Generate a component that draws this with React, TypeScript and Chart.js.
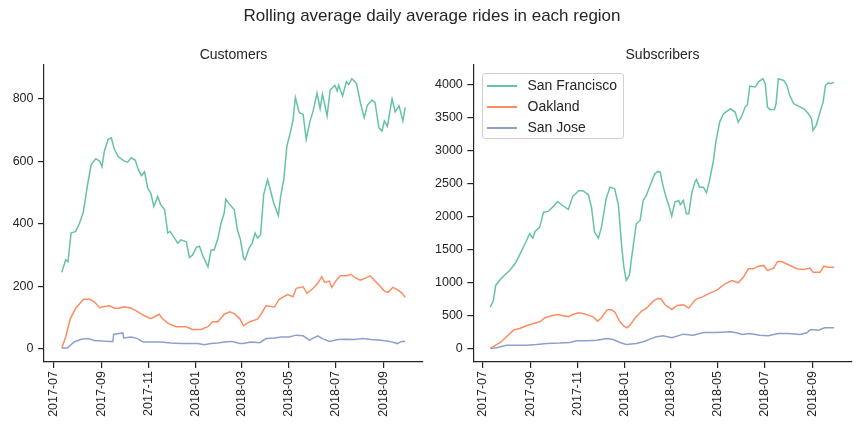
import React, { useEffect, useRef } from "react";
import { Chart, registerables } from "chart.js";

Chart.register(...registerables);

const FONT = "'Liberation Sans', Arial, 'DejaVu Sans', sans-serif";
const INK = "#262626";

const SUPTITLE = "Rolling average daily average rides in each region";
const REGIONS = ["San Francisco", "Oakland", "San Jose"];
const COLORS = ["#66c2a5", "#fc8d62", "#8da0cb"];

// x values are days since 2017-07-01
const TICK_DAYS = [0, 62, 123, 184, 243, 304, 365, 427];
const TICK_LABELS = ["2017-07", "2017-09", "2017-11", "2018-01", "2018-03", "2018-05", "2018-07", "2018-09"];

const CUST_Y_TICKS = [0, 200, 400, 600, 800];
const SUBS_Y_TICKS = [0, 500, 1000, 1500, 2000, 2500, 3000, 3500, 4000];

// ---- Customers ----
const custSfDay = [11, 16, 19, 23, 29, 34, 39, 44, 49, 55, 60, 63, 66, 71, 75, 79, 84, 92, 96, 101, 106, 110, 114, 118, 122, 126, 130, 135, 139, 144, 148, 151, 154, 161, 165, 172, 176, 180, 185, 189, 193, 200, 204, 208, 213, 217, 221, 223, 228, 234, 238, 242, 246, 248, 253, 257, 261, 264, 268, 272, 277, 280, 285, 291, 294, 298, 302, 307, 310, 313, 318, 323, 327, 332, 336, 341, 345, 348, 354, 358, 364, 367, 369, 374, 379, 382, 386, 392, 397, 402, 406, 412, 416, 421, 425, 428, 432, 438, 442, 447, 452, 455];
const custSf = [244, 284, 278, 370, 375, 402, 439, 520, 589, 608, 600, 582, 632, 670, 675, 638, 614, 600, 597, 611, 603, 573, 554, 566, 514, 498, 455, 487, 460, 444, 370, 375, 364, 337, 348, 342, 292, 299, 324, 328, 299, 262, 316, 316, 354, 402, 434, 479, 461, 445, 381, 348, 289, 284, 321, 337, 370, 354, 364, 493, 541, 514, 466, 426, 489, 541, 648, 697, 732, 804, 755, 750, 670, 729, 761, 818, 768, 815, 745, 828, 843, 825, 843, 809, 854, 846, 864, 849, 788, 739, 779, 796, 788, 707, 697, 729, 712, 800, 758, 777, 729, 772];

const custOakDay = [11, 16, 22, 29, 39, 47, 53, 60, 65, 73, 79, 85, 92, 101, 109, 118, 126, 131, 137, 141, 149, 159, 165, 172, 180, 191, 200, 206, 213, 221, 228, 234, 241, 246, 254, 264, 269, 275, 286, 292, 303, 310, 314, 323, 328, 336, 342, 347, 351, 357, 360, 366, 371, 379, 385, 390, 397, 405, 410, 415, 422, 428, 433, 439, 446, 451, 455];
const custOak = [2, 37, 96, 129, 158, 158, 150, 131, 134, 137, 129, 129, 134, 129, 118, 105, 96, 102, 110, 96, 80, 70, 70, 70, 61, 61, 70, 86, 86, 110, 118, 112, 96, 73, 86, 94, 112, 137, 133, 158, 173, 166, 193, 198, 177, 193, 209, 230, 212, 216, 196, 219, 233, 233, 238, 227, 219, 227, 233, 219, 201, 184, 180, 196, 187, 177, 164];

const custSjDay = [11, 18, 27, 36, 45, 53, 64, 73, 77, 78, 85, 90, 91, 101, 109, 116, 126, 139, 152, 165, 178, 187, 195, 204, 213, 221, 230, 234, 241, 245, 256, 267, 275, 286, 295, 305, 314, 323, 331, 342, 348, 357, 368, 379, 389, 400, 411, 424, 435, 445, 450, 455];
const custSj = [2, 2, 21, 30, 32, 26, 24, 23, 23, 45, 48, 50, 34, 37, 32, 21, 21, 21, 18, 16, 16, 16, 12, 16, 18, 21, 23, 21, 16, 16, 21, 19, 32, 34, 37, 37, 43, 41, 27, 41, 32, 23, 29, 30, 29, 32, 29, 27, 23, 16, 23, 23];

// ---- Subscribers ----
const subsSfDay = [10, 14, 17, 23, 29, 35, 42, 48, 55, 61, 65, 68, 74, 79, 85, 92, 97, 102, 111, 117, 125, 130, 137, 141, 145, 150, 154, 160, 165, 171, 176, 180, 183, 186, 190, 194, 199, 204, 208, 212, 217, 223, 227, 230, 234, 238, 241, 245, 249, 254, 256, 260, 264, 267, 271, 275, 277, 281, 286, 290, 294, 299, 302, 307, 312, 321, 327, 331, 336, 340, 343, 346, 353, 357, 363, 366, 369, 372, 378, 380, 383, 390, 394, 398, 403, 409, 416, 422, 426, 428, 432, 437, 441, 444, 448, 451, 455];
const subsSf = [626, 727, 955, 1045, 1116, 1182, 1283, 1419, 1586, 1737, 1672, 1773, 1838, 2065, 2076, 2156, 2227, 2177, 2106, 2308, 2394, 2389, 2328, 2141, 1763, 1672, 1838, 2268, 2444, 2419, 2167, 1561, 1232, 1030, 1106, 1460, 1889, 1939, 2242, 2318, 2470, 2646, 2682, 2671, 2444, 2277, 2177, 2005, 2217, 2242, 2177, 2242, 2040, 2040, 2358, 2520, 2561, 2444, 2444, 2358, 2546, 2848, 3126, 3429, 3556, 3631, 3581, 3429, 3530, 3657, 3692, 3974, 3960, 4035, 4086, 4010, 3657, 3621, 3621, 3707, 4086, 4060, 3985, 3823, 3707, 3671, 3631, 3556, 3480, 3303, 3379, 3581, 3732, 3985, 4025, 4010, 4035];

const subsOakDay = [10, 23, 31, 40, 48, 57, 66, 74, 81, 89, 98, 104, 111, 117, 124, 130, 137, 143, 149, 154, 161, 166, 171, 178, 183, 187, 191, 197, 206, 212, 221, 227, 231, 236, 245, 252, 260, 267, 273, 277, 284, 290, 295, 303, 314, 323, 331, 338, 344, 351, 357, 364, 369, 377, 382, 387, 396, 407, 416, 424, 428, 437, 442, 448, 455];
const subsOak = [0, 91, 177, 278, 303, 343, 379, 404, 465, 495, 515, 495, 480, 515, 540, 530, 505, 480, 414, 465, 581, 591, 556, 404, 338, 313, 353, 454, 566, 606, 717, 758, 752, 666, 591, 651, 661, 611, 702, 752, 778, 813, 843, 879, 980, 1030, 995, 1081, 1207, 1207, 1247, 1258, 1182, 1217, 1318, 1318, 1268, 1207, 1197, 1217, 1156, 1156, 1247, 1232, 1232];

const subsSjDay = [10, 18, 31, 44, 57, 70, 83, 100, 113, 122, 135, 148, 161, 169, 178, 186, 199, 208, 217, 225, 230, 234, 245, 260, 273, 286, 303, 321, 329, 336, 346, 359, 370, 383, 396, 411, 420, 425, 435, 443, 455];
const subsSj = [0, 10, 50, 50, 50, 61, 76, 81, 91, 116, 116, 126, 152, 136, 91, 61, 76, 101, 141, 177, 186, 192, 161, 217, 202, 242, 242, 252, 237, 212, 227, 202, 192, 227, 227, 212, 237, 287, 277, 313, 313];

type Series = { days: number[]; values: number[] };

type PanelProps = {
  left: number;
  series: Series[];
  yTicks: number[];
  yMin: number;
  yMax: number;
  axisWidth: number;
  padRight: number;
};

const X_MIN = -12;
const X_MAX = 478;

function Panel({ left, series, yTicks, yMin, yMax, axisWidth, padRight }: PanelProps) {
  const ref = useRef<HTMLCanvasElement | null>(null);
  useEffect(() => {
    if (!ref.current) return;
    const chart = new Chart(ref.current, {
      type: "line",
      data: {
        datasets: series.map((s, i) => ({
          label: REGIONS[i],
          data: s.days.map((d, j) => ({ x: d, y: s.values[j] })),
          borderColor: COLORS[i],
          backgroundColor: COLORS[i],
          borderWidth: 1.5,
          pointRadius: 0,
          tension: 0,
          fill: false,
        })),
      },
      options: {
        animation: false,
        responsive: false,
        events: [],
        layout: { padding: { left: 0, right: padRight, top: 65, bottom: 0 } },
        plugins: {
          legend: { display: false },
          title: { display: false },
          tooltip: { enabled: false },
        },
        scales: {
          x: {
            type: "linear",
            min: X_MIN,
            max: X_MAX,
            afterBuildTicks: (s: any) => {
              s.ticks = TICK_DAYS.map((v) => ({ value: v }));
            },
            afterFit: (s: any) => {
              s.height = 70;
            },
            grid: {
              display: true,
              drawOnChartArea: false,
              drawTicks: true,
              tickLength: 6,
              color: INK,
              lineWidth: 1.2,
            },
            border: { display: true, color: INK, width: 1.2 },
            ticks: {
              autoSkip: false,
              maxRotation: 90,
              minRotation: 90,
              padding: 3,
              color: INK,
              font: { family: FONT, size: 12.5 },
              callback: (v: any) => {
                const k = TICK_DAYS.indexOf(Number(v));
                return k >= 0 ? TICK_LABELS[k] : "";
              },
            },
          },
          y: {
            type: "linear",
            min: yMin,
            max: yMax,
            afterBuildTicks: (s: any) => {
              s.ticks = yTicks.map((v) => ({ value: v }));
            },
            afterFit: (s: any) => {
              s.width = axisWidth;
            },
            grid: {
              display: true,
              drawOnChartArea: false,
              drawTicks: true,
              tickLength: 6,
              color: INK,
              lineWidth: 1.2,
            },
            border: { display: true, color: INK, width: 1.2 },
            ticks: {
              autoSkip: false,
              padding: 4.5,
              color: INK,
              font: { family: FONT, size: 12.5 },
              callback: (v: any) => String(v),
            },
          },
        },
      },
    });
    return () => chart.destroy();
  }, []);
  return (
    <canvas
      ref={ref}
      width={432}
      height={432}
      style={{ position: "absolute", left, top: 0, width: 432, height: 432 }}
    />
  );
}

const textBase: React.CSSProperties = {
  position: "absolute",
  fontFamily: FONT,
  color: INK,
  whiteSpace: "nowrap",
};

export default function App() {
  const custSeries: Series[] = [
    { days: custSfDay, values: custSf },
    { days: custOakDay, values: custOak },
    { days: custSjDay, values: custSj },
  ];
  const subsSeries: Series[] = [
    { days: subsSfDay, values: subsSf },
    { days: subsOakDay, values: subsOak },
    { days: subsSjDay, values: subsSj },
  ];
  return (
    <div
      style={{
        position: "absolute",
        left: 0,
        top: 0,
        width: 864,
        height: 432,
        background: "#ffffff",
        overflow: "hidden",
      }}
    >
      <Panel left={0} series={custSeries} yTicks={CUST_Y_TICKS} yMin={-43} yMax={908} axisWidth={44} padRight={9} />
      <Panel left={432} series={subsSeries} yTicks={SUBS_Y_TICKS} yMin={-205} yMax={4294} axisWidth={41.3} padRight={12.3} />
      <div style={{ ...textBase, left: 0, top: 0, width: 864, height: 32, lineHeight: "32px", textAlign: "center", fontSize: 17 }}>
        {SUPTITLE}
      </div>
      <div style={{ ...textBase, left: 133.5, top: 44, width: 200, height: 20, lineHeight: "20px", textAlign: "center", fontSize: 14 }}>
        Customers
      </div>
      <div style={{ ...textBase, left: 562.5, top: 44, width: 200, height: 20, lineHeight: "20px", textAlign: "center", fontSize: 14 }}>
        Subscribers
      </div>
      <div
        style={{
          position: "absolute",
          left: 481.5,
          top: 73,
          width: 142,
          height: 66,
          border: "1px solid #d0d0d0",
          borderRadius: 3,
          background: "rgba(255,255,255,0.8)",
          boxSizing: "border-box",
        }}
      >
        {REGIONS.map((r, i) => (
          <div key={r} style={{ position: "absolute", left: 0, top: 1 + i * 21, height: 21, width: 140 }}>
            <div
              style={{
                position: "absolute",
                left: 4,
                top: 10,
                width: 30,
                height: 2,
                background: COLORS[i],
              }}
            />
            <div style={{ ...textBase, left: 45, top: 0, height: 21, lineHeight: "21px", fontSize: 14 }}>{r}</div>
          </div>
        ))}
      </div>
    </div>
  );
}
